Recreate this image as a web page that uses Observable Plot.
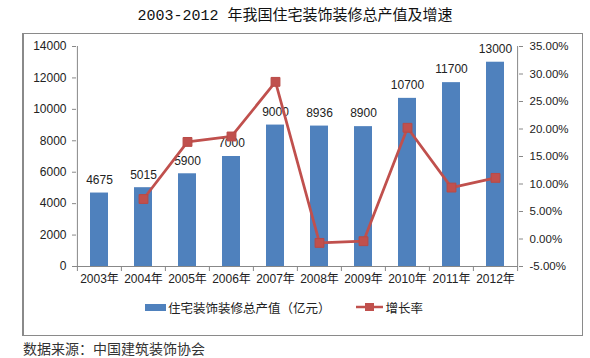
<!DOCTYPE html>
<html><head><meta charset="utf-8">
<script src="https://cdn.jsdelivr.net/npm/d3@7"></script>
<script src="https://cdn.jsdelivr.net/npm/@observablehq/plot@0.6"></script>
<style>
body{margin:0;background:#fff;width:590px;height:358px;position:relative;overflow:hidden;font-family:"Liberation Sans","Noto Sans CJK SC",sans-serif;}
#title{position:absolute;left:0;top:6px;width:590px;text-align:center;font-family:"Liberation Mono","Noto Sans CJK SC",monospace;font-size:15px;color:#111;line-height:22px;}
#box{position:absolute;left:22px;top:33px;width:561px;height:303px;border:1px solid #8a8a8a;border-left:2px solid #8a8a8a;box-sizing:border-box;}
#chart{position:absolute;left:0;top:0;}
#legend{position:absolute;top:298px;left:145px;height:18px;display:flex;align-items:center;font-family:"Noto Sans CJK SC",sans-serif;font-size:12.5px;color:#222;white-space:nowrap;}
#legend .sw{display:inline-block;width:21px;height:7px;background:#4F81BD;margin-right:2px;}
#legend svg{margin-left:25px;margin-right:3px;}
#source{position:absolute;left:23px;top:338px;font-family:"Noto Sans CJK SC",sans-serif;font-size:14px;color:#333;line-height:20px;}
</style>
</head><body>
<div id="title">2003-2012 年我国住宅装饰装修总产值及增速</div>
<div id="box"></div>
<div id="chart"></div>
<div id="legend"><span class="sw"></span><span>住宅装饰装修总产值（亿元）</span><svg width="27" height="10"><line x1="0" y1="5" x2="27" y2="5" stroke="#C0504D" stroke-width="2.5"/><rect x="9" y="1" width="9" height="8" fill="#C0504D"/></svg><span>增长率</span></div>
<div id="source">数据来源：中国建筑装饰协会</div>
<script>
const years = ["2003年","2004年","2005年","2006年","2007年","2008年","2009年","2010年","2011年","2012年"];
const output = [4675, 5015, 5900, 7000, 9000, 8936, 8900, 10700, 11700, 13000];
const growth = [null, 7.27, 17.65, 18.64, 28.57, -0.71, -0.40, 20.22, 9.35, 11.11];
const leftTicks = [0, 2000, 4000, 6000, 8000, 10000, 12000, 14000];
const rightTicks = [-5, 0, 5, 10, 15, 20, 25, 30, 35];

// secondary axis: -5% .. 35% mapped onto 0 .. 14000
const toY = p => (p + 5) * 350;
const fromY = v => v / 350 - 5;

const rows = years.map((y, i) => ({year: y, output: output[i], growth: growth[i]}));
const lineRows = rows.filter(d => d.growth != null);

const W = 590, ML = 76, MR = 72;
const step = (W - ML - MR) / 10;

const chart = Plot.plot({
  width: W, height: 300,
  marginLeft: ML, marginRight: MR, marginTop: 46, marginBottom: 34,
  x: {domain: years, paddingInner: 0.59, paddingOuter: 0.295, label: null},
  y: {domain: [0, 14000], label: null},
  style: {fontFamily: '"Liberation Sans","Noto Sans CJK SC",sans-serif', fontSize: "12px", color: "#222", background: "transparent"},
  marks: [
    Plot.barY(rows, {x: "year", y: "output", fill: "#4F81BD"}),
    Plot.text(rows, {x: "year", y: "output", text: d => String(d.output), dy: -13, fontSize: 12, fill: "#222"}),
    Plot.line(lineRows, {x: "year", y: d => toY(d.growth), stroke: "#C0504D", strokeWidth: 2.75}),
    Plot.dot(lineRows, {x: "year", y: d => toY(d.growth), symbol: "square", r: 5, fill: "#C0504D", stroke: "#B94A46", strokeWidth: 1}),
    // axis lines
    Plot.ruleY([0], {stroke: "#888"}),
    Plot.ruleX([years[0]], {y1: 0, y2: 14000, dx: -step / 2, stroke: "#888"}),
    Plot.ruleX([years[years.length - 1]], {y1: 0, y2: 14000, dx: step / 2, stroke: "#888"}),
    // category boundary ticks
    Plot.ruleX(years, {y1: 0, y2: -320, dx: -step / 2, stroke: "#888"}),
    Plot.ruleX([years[years.length - 1]], {y1: 0, y2: -320, dx: step / 2, stroke: "#888"}),
    Plot.axisX({tickSize: 0, tickPadding: 8, label: null, fontSize: 12}),
    Plot.axisY(leftTicks, {anchor: "left", tickSize: 4, tickPadding: 6, label: null, fontSize: 12, tickFormat: d => String(d), stroke: "#888"}),
    Plot.axisY(rightTicks.map(toY), {anchor: "right", tickSize: 4, tickPadding: 7, label: null, fontSize: 11.5, tickFormat: v => fromY(v).toFixed(2) + "%", stroke: "#888"})
  ]
});
document.getElementById("chart").appendChild(chart);
</script>
</body></html>
